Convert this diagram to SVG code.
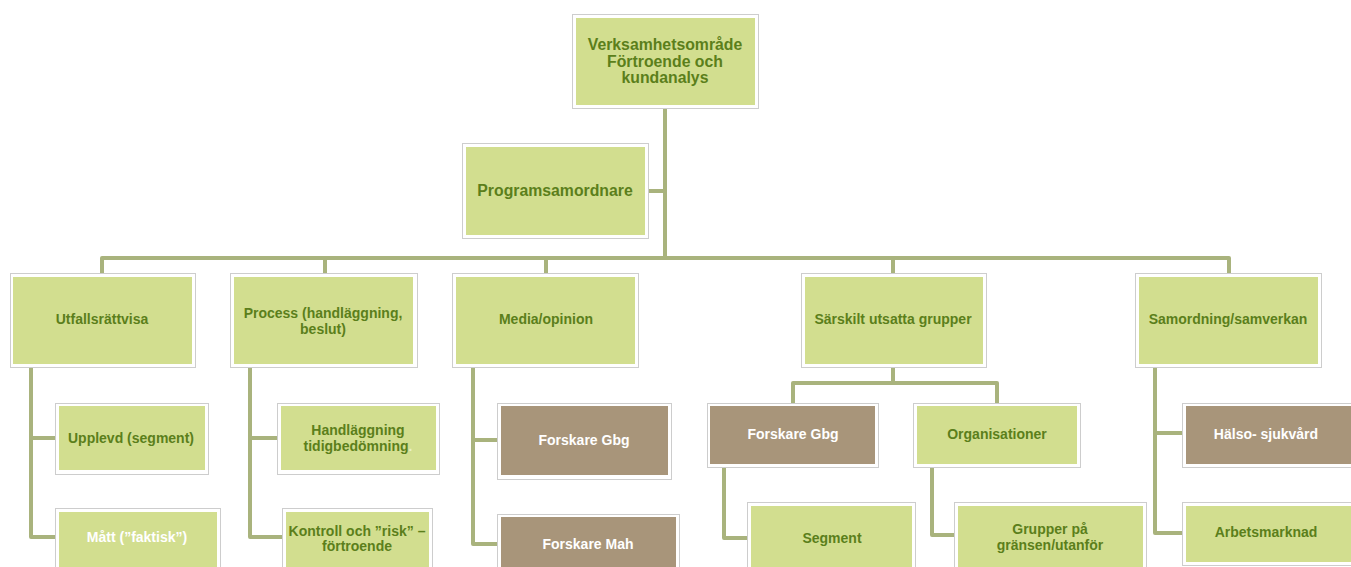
<svg xmlns="http://www.w3.org/2000/svg" width="1351" height="567" viewBox="0 0 1351 567">
<style>
.o{fill:#fff;stroke:#cdcdcd;stroke-width:1}
.g{fill:#d2de8f}
.b{fill:#a8957a}
text{font-family:"Liberation Sans",Arial,sans-serif;font-weight:bold;font-size:14px;text-anchor:middle}
.tg{fill:#5b7f1b}
.tw{fill:#ffffff}
.big{font-size:15.8px}
.c{fill:none;stroke:#a9b37d;stroke-width:4;stroke-linejoin:round}
</style>
<g id="connectors">
<path class="c" d="M665,108V258"/>
<path class="c" d="M648,191H665"/>
<path class="c" d="M102,273V258H1229V273"/>
<path class="c" d="M325,258V273M546,258V273M893,258V273"/>
<path class="c" d="M31,367V537H57M31,438H57"/>
<path class="c" d="M250,367V537H284M250,438H279"/>
<path class="c" d="M473,367V544H499M473,440H499"/>
<path class="c" d="M893,367V383M793,403V383H997V403"/>
<path class="c" d="M724,467V538H749"/>
<path class="c" d="M932,467V535H956"/>
<path class="c" d="M1155,367V533H1184M1155,433H1184"/>
</g>
<g id="n-verksamhet">
<rect class="o" x="572.500" y="14.500" width="186" height="94"/>
<rect class="g" x="576" y="18" width="179" height="87"/>
<text class="tg big" x="665" y="50">Verksamhetsområde</text>
<text class="tg big" x="665" y="67">Förtroende och</text>
<text class="tg big" x="665" y="83">kundanalys</text>
</g>
<g id="n-programsamordnare">
<rect class="o" x="462.500" y="143.500" width="186" height="95"/>
<rect class="g" x="466" y="147" width="179" height="88"/>
<text class="tg big" x="555" y="196">Programsamordnare</text>
</g>
<g id="n-utfall">
<rect class="o" x="10.500" y="273.500" width="185" height="94"/>
<rect class="g" x="13" y="277" width="179" height="87"/>
<text class="tg" x="102" y="324">Utfallsrättvisa</text>
</g>
<g id="n-process">
<rect class="o" x="230.500" y="273.500" width="187" height="94"/>
<rect class="g" x="234" y="277" width="179" height="87"/>
<text class="tg" x="323" y="318">Process (handläggning,</text>
<text class="tg" x="323" y="334">beslut)</text>
</g>
<g id="n-media">
<rect class="o" x="452.500" y="273.500" width="186" height="94"/>
<rect class="g" x="456" y="277" width="179" height="87"/>
<text class="tg" x="546" y="324">Media/opinion</text>
</g>
<g id="n-sarskilt">
<rect class="o" x="801.500" y="273.500" width="185" height="94"/>
<rect class="g" x="805" y="277" width="178" height="87"/>
<text class="tg" x="893" y="324">Särskilt utsatta grupper</text>
</g>
<g id="n-samordning">
<rect class="o" x="1135.500" y="273.500" width="186" height="94"/>
<rect class="g" x="1139" y="277" width="179" height="87"/>
<text class="tg" x="1228" y="324">Samordning/samverkan</text>
</g>
<g id="n-upplevd">
<rect class="o" x="55.500" y="403.500" width="153" height="71"/>
<rect class="g" x="59" y="406" width="146" height="64"/>
<text class="tg" x="131" y="443">Upplevd (segment)</text>
</g>
<g id="n-matt">
<rect class="o" x="55.500" y="508.500" width="165" height="70"/>
<rect class="g" x="59" y="512" width="158" height="66"/>
<text class="tw" x="137" y="542">Mått (”faktisk”)</text>
</g>
<g id="n-handlaggning">
<rect class="o" x="277.500" y="403.500" width="162" height="71"/>
<rect class="g" x="281" y="406" width="155" height="64"/>
<text class="tg" x="358" y="435">Handläggning</text>
<text class="tg" x="358" y="451">tidigbedömning<tspan fill="#e8efc8">.</tspan></text>
</g>
<g id="n-kontroll">
<rect class="o" x="282.500" y="508.500" width="150" height="70"/>
<rect class="g" x="286" y="512" width="143" height="66"/>
<text class="tg" x="357" y="536">Kontroll och ”risk” –</text>
<text class="tg" x="357" y="551">förtroende</text>
</g>
<g id="n-forskare-gbg-1">
<rect class="o" x="497.500" y="403.500" width="174" height="76"/>
<rect class="b" x="501" y="406" width="167" height="69"/>
<text class="tw" x="584" y="445">Forskare Gbg</text>
</g>
<g id="n-forskare-mah">
<rect class="o" x="497.500" y="514.500" width="182" height="64"/>
<rect class="b" x="501" y="517" width="175" height="61"/>
<text class="tw" x="588" y="549">Forskare Mah</text>
</g>
<g id="n-forskare-gbg-2">
<rect class="o" x="707.500" y="403.500" width="171" height="64"/>
<rect class="b" x="710" y="406" width="165" height="58"/>
<text class="tw" x="793" y="439">Forskare Gbg</text>
</g>
<g id="n-organisationer">
<rect class="o" x="913.500" y="403.500" width="167" height="64"/>
<rect class="g" x="917" y="406" width="160" height="58"/>
<text class="tg" x="997" y="439">Organisationer</text>
</g>
<g id="n-segment">
<rect class="o" x="747.500" y="502.500" width="168" height="76"/>
<rect class="g" x="751" y="506" width="161" height="72"/>
<text class="tg" x="832" y="543">Segment</text>
</g>
<g id="n-grupper">
<rect class="o" x="954.500" y="502.500" width="192" height="76"/>
<rect class="g" x="958" y="506" width="185" height="72"/>
<text class="tg" x="1050" y="534">Grupper på</text>
<text class="tg" x="1050" y="550">gränsen/utanför</text>
</g>
<g id="n-halso">
<rect class="o" x="1182.500" y="403.500" width="172" height="64"/>
<rect class="b" x="1186" y="406" width="168" height="58"/>
<text class="tw" x="1266" y="439">Hälso- sjukvård</text>
</g>
<g id="n-arbetsmarknad">
<rect class="o" x="1182.500" y="502.500" width="172" height="63"/>
<rect class="g" x="1186" y="506" width="168" height="56"/>
<text class="tg" x="1266" y="537">Arbetsmarknad</text>
</g>
</svg>
